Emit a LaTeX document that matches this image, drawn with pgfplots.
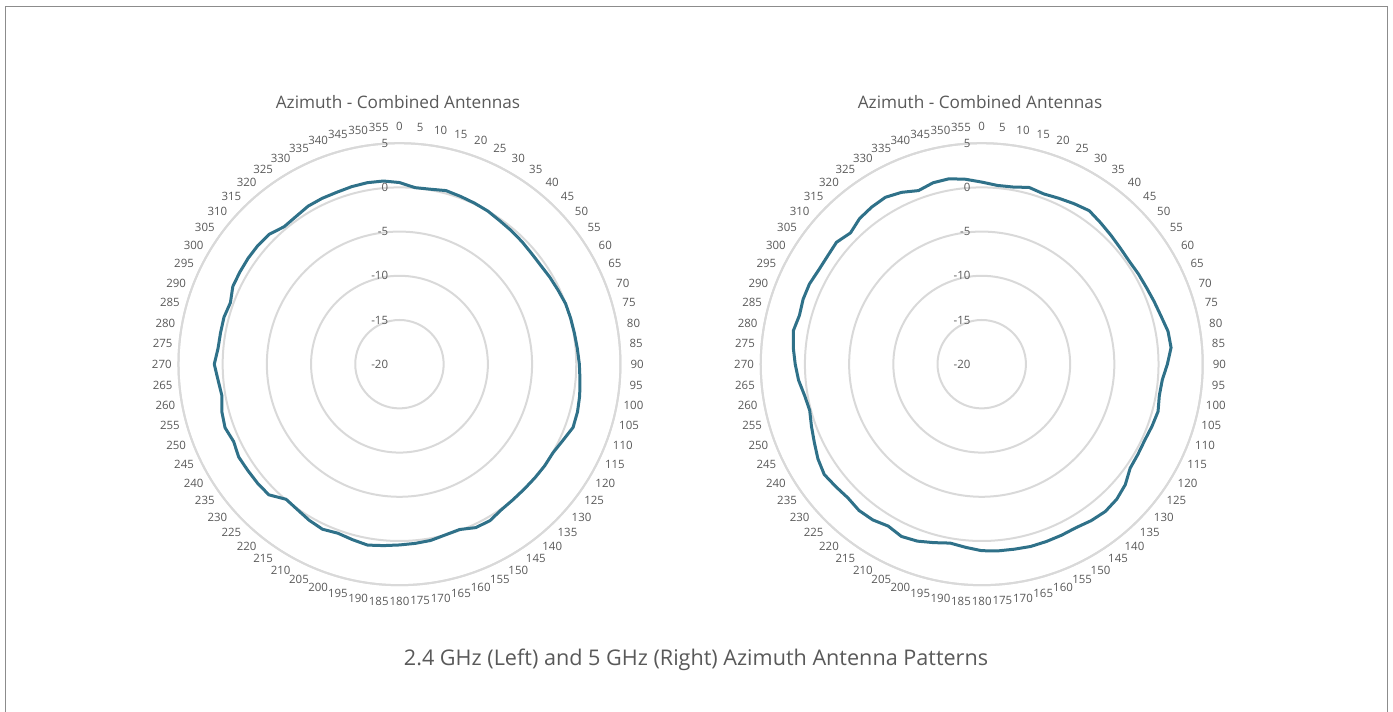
\documentclass[border=0pt]{standalone}
\usepackage{fontspec}
\setmainfont{Open Sans}
\usepackage{pgfplots}
\pgfplotsset{compat=1.18}
\usepackage{pgfplotstable}
\usepgfplotslibrary{polar}
\definecolor{linec}{HTML}{2F7189}
\definecolor{gridc}{HTML}{D9D9D9}
\definecolor{txt}{HTML}{595959}
\definecolor{framec}{HTML}{8C8C8C}

\pgfplotstableread{
a r
0 0.55
5 0.05
10 0.1
15 0.33
20 0.2
25 0.1
30 0.0
35 -0.2
40 -0.3
45 -0.4
50 -0.5
55 -0.5
60 -0.35
65 -0.2
70 0.0
75 0.05
80 0.1
85 0.2
90 0.35
95 0.5
100 0.7
105 0.85
110 0.9
115 0.4
120 0.05
125 0.05
130 0.0
135 -0.03
140 0.0
145 0.1
150 0.45
155 0.4
160 -0.1
165 0.0
170 0.25
175 0.35
180 0.45
185 0.6
190 0.78
195 0.55
200 0.35
205 0.6
210 0.4
215 0.1
220 -0.05
225 0.9
230 0.95
235 0.95
240 1.0
245 0.7
250 1.0
255 0.8
260 0.4
265 0.6
270 0.95
275 0.6
280 0.55
285 0.55
290 0.35
295 0.8
300 0.85
305 0.9
310 0.9
315 0.8
320 0.3
325 0.4
330 0.65
335 0.7
340 0.7
345 0.8
350 0.85
355 0.8
360 0.55
}\lefttab

\pgfplotstableread{
a r
0 0.6
5 0.3
10 0.35
15 0.7
20 0.5
25 0.7
30 0.95
35 1.2
40 0.9
45 0.65
50 0.45
55 0.35
60 0.45
65 0.55
70 0.75
75 1.0
80 1.4
85 1.5
90 1.0
95 0.5
100 0.4
105 0.65
110 0.5
115 0.35
120 0.4
125 0.5
130 1.2
135 1.6
140 1.75
145 1.6
150 1.35
155 1.35
160 1.35
165 1.35
170 1.25
175 1.2
180 1.1
185 0.8
190 0.55
195 0.9
200 1.3
205 1.5
210 1.15
215 1.5
220 1.6
225 1.4
230 1.55
235 1.75
240 1.4
245 0.9
250 0.5
255 0.15
260 0.35
265 0.8
270 1.1
275 1.4
280 1.65
285 1.35
290 1.5
295 1.5
300 1.3
305 1.3
310 1.45
315 1.0
320 1.5
325 1.7
330 1.8
335 1.45
340 0.9
345 1.25
350 1.3
355 1.0
360 0.6
}\righttab

\pgfplotsset{antstyle/.style={
  scale only axis, width=331.5pt, height=331.5pt, anchor=center,
  xmin=90, xmax=450, ymin=0, ymax=25,
  xtick={90,95,...,445},
  xticklabels={0,355,350,345,340,335,330,325,320,315,310,305,300,295,290,285,280,275,270,265,260,255,250,245,240,235,230,225,220,215,210,205,200,195,190,185,180,175,170,165,160,155,150,145,140,135,130,125,120,115,110,105,100,95,90,85,80,75,70,65,60,55,50,45,40,35,30,25,20,15,10,5},
  ytick={0,5,10,15,20,25}, yticklabels={-20,-15,-10,-5,0,5},
  ymajorgrids, xmajorgrids=false,
  grid style={gridc, line width=1.5pt},
  axis line style={gridc, line width=1.5pt},
  y axis line style={draw=none},
  major tick length=0pt,
  tick label style={font=\fontsize{8.6}{10}\selectfont, text=txt},
  xticklabel style={anchor=center, inner sep=0pt, shift={(\tick:12.5pt)}},
  yticklabel style={xshift=-5pt},
  /pgf/number format/assume math mode=true,
  clip=false,
}}

\begin{document}
\begin{tikzpicture}
\useasboundingbox (0,0) rectangle (1044.75pt,534pt);
\draw[framec, line width=1pt] (4.1pt,0) -- (4.1pt,529.1pt) -- (1040.6pt,529.1pt) -- (1040.6pt,0);
\begin{polaraxis}[antstyle, at={(299.6pt,260.85pt)}]
\addplot[linec, line width=2.25pt, line join=round, no marks] table[x expr={450-\thisrow{a}}, y expr={\thisrow{r}+20}] {\lefttab};
\end{polaraxis}
\begin{polaraxis}[antstyle, at={(736.3pt,260.85pt)}]
\addplot[linec, line width=2.25pt, line join=round, no marks] table[x expr={450-\thisrow{a}}, y expr={\thisrow{r}+20}] {\righttab};
\end{polaraxis}
\node[text=txt, font=\fontsize{12.9}{15}\selectfont] at (298.5pt,457.5pt) {Azimuth - Combined Antennas};
\node[text=txt, font=\fontsize{12.9}{15}\selectfont] at (735pt,457.5pt) {Azimuth - Combined Antennas};
\node[text=txt, font=\fontsize{16.2}{19}\selectfont] at (522pt,39pt) {2.4 GHz (Left) and 5 GHz (Right) Azimuth Antenna Patterns};
\end{tikzpicture}
\end{document}
